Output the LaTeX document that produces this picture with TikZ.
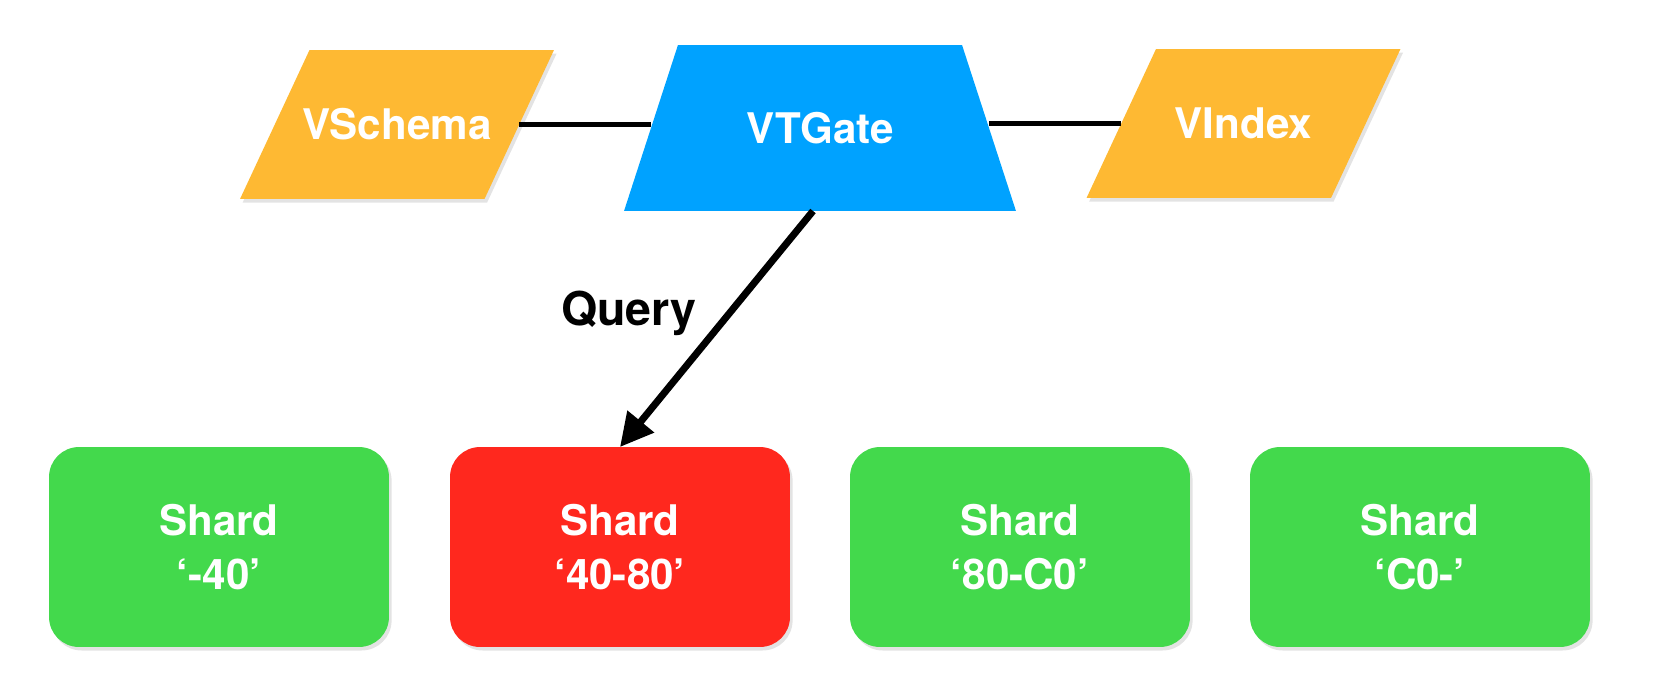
\documentclass[tikz,border=0pt]{standalone}
\usepackage{fontspec}
\setmainfont{TeX Gyre Heros}
\usetikzlibrary{shapes.geometric,arrows.meta,shadows}
\definecolor{schemaorange}{RGB}{254,185,51}
\definecolor{gateblue}{RGB}{0,162,255}
\definecolor{shardgreen}{RGB}{67,217,76}
\definecolor{shardred}{RGB}{255,40,30}
\begin{document}
\begin{tikzpicture}[x=0.02cm,y=-0.02cm,
    shadowed/.style={drop shadow={shadow xshift=1.5pt,shadow yshift=-2pt,opacity=0.22}},
    boxtext/.style={text=white,font=\bfseries\fontsize{24}{30.5}\selectfont,align=center},
    metabox/.style={trapezium,trapezium left angle=65,trapezium right angle=115,
        trapezium stretches body,minimum width=6.28cm,text height=1.795cm,text depth=1.185cm,
        inner xsep=-0.2cm,inner ysep=0pt,outer sep=0pt,fill=schemaorange,shadowed,boxtext},
    gatebox/.style={trapezium,trapezium left angle=72,trapezium right angle=72,
        trapezium stretches body,minimum width=7.84cm,text height=1.965cm,text depth=1.355cm,
        inner sep=0pt,outer sep=0pt,fill=gateblue,boxtext},
    shardbox/.style={rectangle,rounded corners=0.6cm,minimum width=6.8cm,
        minimum height=4cm,outer sep=0pt,fill=shardgreen,shadowed,boxtext},
    link/.style={line width=3.4pt},
    querylink/.style={line width=4pt,-{Triangle[length=0.66cm,width=0.66cm]}}]
    \useasboundingbox (0,0) rectangle (1668,680);
    % top row: schema, gate, index
    \node[metabox] (vschema) at (397,124.5) {VSchema};
    \node[gatebox] (vtgate) at (820,128) {VTGate};
    \node[metabox] (vindex) at (1243.5,123.5) {VIndex};
    \draw[link] (vschema.east) -- (vschema.east -| vtgate.west);
    \draw[link] (vtgate.east |- vindex.west) -- (vindex.west);
    % shards
    \node[shardbox] (shard1) at (219,547) {Shard\\‘-40’};
    \node[shardbox,fill=shardred] (shard2) at (620,547) {Shard\\‘40-80’};
    \node[shardbox] (shard3) at (1020,547) {Shard\\‘80-C0’};
    \node[shardbox] (shard4) at (1420,547) {Shard\\‘C0-’};
    % routed query
    \draw[querylink] ([xshift=-0.14cm]vtgate.south) -- (shard2.north);
    \node[anchor=base,font=\bfseries\fontsize{26.5}{32}\selectfont] (querylbl) at (629,325) {Query};
\end{tikzpicture}
\end{document}
